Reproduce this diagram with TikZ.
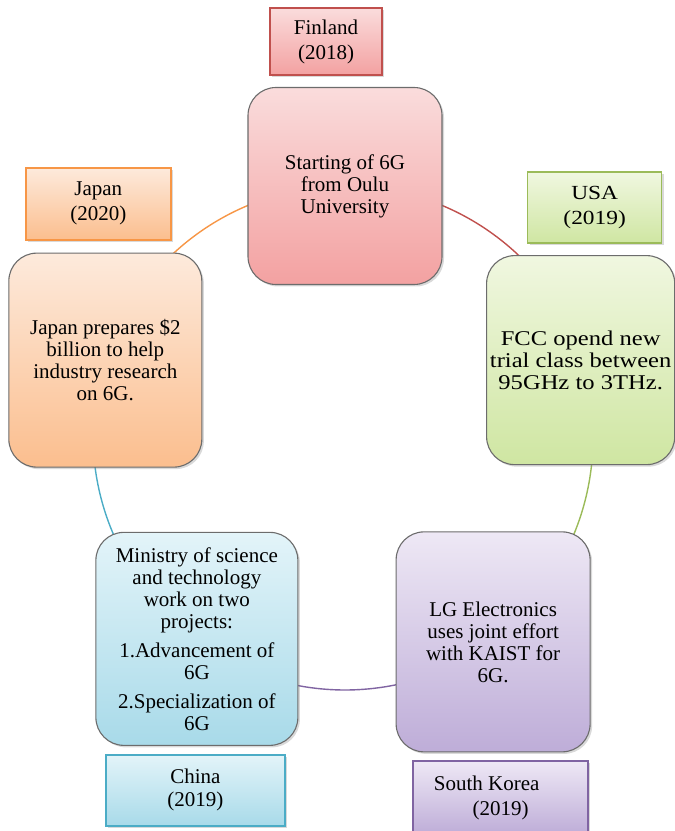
\documentclass[tikz,border=0pt]{standalone}
\usepackage{fontspec}
\setmainfont{Liberation Serif}
\newfontfamily\wideserif[FakeStretch=1.17]{Liberation Serif}
\usetikzlibrary{positioning,shadows,backgrounds}

\definecolor{finred}{HTML}{C0504D}
\definecolor{finlight}{HTML}{FADCDC}
\definecolor{findark}{HTML}{F3A1A1}
\definecolor{usagreen}{HTML}{9BBB59}
\definecolor{usalight}{HTML}{F0F7E0}
\definecolor{usadark}{HTML}{CFE6A2}
\definecolor{jporange}{HTML}{F79646}
\definecolor{jplight}{HTML}{FDEADC}
\definecolor{jpdark}{HTML}{FBBE8E}
\definecolor{cnblue}{HTML}{4BACC6}
\definecolor{cnlight}{HTML}{E3F4F9}
\definecolor{cndark}{HTML}{A8DAE9}
\definecolor{krpurple}{HTML}{8064A2}
\definecolor{krlight}{HTML}{EEE8F5}
\definecolor{krdark}{HTML}{BEADD8}

\tikzset{
  mainbox/.style={rectangle, rounded corners=28pt, draw=gray!85!black, line width=1.1pt,
    minimum width=194pt, minimum height=212pt, align=center,
    font=\fontsize{21}{22}\selectfont,
    drop shadow={opacity=0.3, shadow xshift=2pt, shadow yshift=-2pt}},
  yearbox/.style={rectangle, line width=1.6pt, minimum height=72pt, align=center,
    font=\fontsize{21}{25}\selectfont,
    drop shadow={opacity=0.3, shadow xshift=2pt, shadow yshift=-2pt}},
  ring/.style={line width=1.4pt}
}

\begin{document}
\begin{tikzpicture}[x=1pt,y=1pt]
  \useasboundingbox (0,0) rectangle (675,831);
  \coordinate (ctr) at (345,393);

  % the five steps round the cycle
  \node[mainbox, minimum height=197pt, top color=finlight, bottom color=findark] (fin)
    at ([shift={(90:252)}]ctr) {Starting of 6G\\from Oulu\\University};
  \node[mainbox, minimum width=188pt, minimum height=209pt, xshift=-4pt,
    top color=usalight, bottom color=usadark, font=\wideserif\fontsize{21}{22}\selectfont] (usa)
    at ([shift={(18:252)}]ctr) {FCC opend new\\trial class between\\95GHz to 3THz.};
  \node[mainbox, minimum height=220pt, top color=krlight, bottom color=krdark] (kr)
    at ([shift={(-54:252)}]ctr) {LG Electronics\\uses joint effort\\with KAIST for\\6G.};
  \node[mainbox, minimum width=202pt, minimum height=213pt, yshift=3pt,
    top color=cnlight, bottom color=cndark] (cn)
    at ([shift={(-126:252)}]ctr) {Ministry of science\\and technology\\work on two\\projects:\\[7pt]
      1.Advancement of\\6G\\[7pt]2.Specialization of\\6G};
  \node[mainbox, minimum width=193pt, minimum height=214pt, top color=jplight, bottom color=jpdark] (jp)
    at ([shift={(162:252)}]ctr) {Japan prepares \$2\\billion to help\\industry research\\on 6G.};

  % country and year
  \node[yearbox, draw=finred, minimum width=112pt, minimum height=67pt,
    top color=finlight, bottom color=findark, above=11pt of fin, xshift=-19pt] (finyear)
    {Finland\\(2018)};
  \node[yearbox, draw=usagreen, minimum width=134pt, minimum height=71pt,
    top color=usalight, bottom color=usadark, above=11pt of usa, xshift=14pt,
    font=\wideserif\fontsize{20}{25}\selectfont] (usayear)
    {USA\\(2019)};
  \node[yearbox, draw=jporange, minimum width=145pt,
    top color=jplight, bottom color=jpdark, above=12pt of jp, xshift=-7pt] (jpyear)
    {Japan\\(2020)};
  \node[yearbox, draw=cnblue, minimum width=179pt, minimum height=71pt,
    top color=cnlight, bottom color=cndark, below=8pt of cn, xshift=-1.5pt,
    font=\fontsize{21}{23}\selectfont] (cnyear)
    {China\\(2019)};
  \node[yearbox, draw=krpurple, minimum width=175pt, minimum height=73pt,
    top color=krlight, bottom color=krdark, below=8pt of kr, xshift=7.5pt] (kryear)
    {South Korea\hspace*{28pt}\\(2019)};

  % ring behind the boxes
  \begin{scope}[on background layer]
    \draw[ring, finred] (fin.center) arc[start angle=90, end angle=18, radius=252];
    \draw[ring, usagreen] (usa.center) arc[start angle=18, end angle=-54, radius=252];
    \draw[ring, krpurple] (kr.center) arc[start angle=-54, end angle=-126, radius=252];
    \draw[ring, cnblue] (cn.center) arc[start angle=-126, end angle=-198, radius=252];
    \draw[ring, jporange] (jp.center) arc[start angle=162, end angle=90, radius=252];
  \end{scope}
\end{tikzpicture}
\end{document}
